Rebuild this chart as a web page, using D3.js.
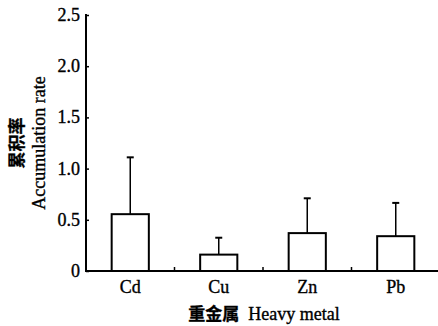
<!DOCTYPE html>
<html>
<head>
<meta charset="utf-8">
<script src="https://cdn.jsdelivr.net/npm/d3@7"></script>
<style>
  body { margin: 0; background: #fff; }
  text { font-family: "Liberation Serif", "Times New Roman", serif; fill: #000; stroke: #000; stroke-width: 0.35; }
  .cjk { font-family: "Noto Sans CJK SC", sans-serif; }
</style>
</head>
<body>
<div id="chart"></div>
<script>
// data
const metals = ["Cd", "Cu", "Zn", "Pb"]
const means = [0.555, 0.16, 0.37, 0.34]
const errTops = [1.11, 0.325, 0.71, 0.665]
const yTicks = [0, 0.5, 1.0, 1.5, 2.0, 2.5]
const yTickLabels = ["0", "0.5", "1.0", "1.5", "2.0", "2.5"]

// layout
const width = 438, height = 326
const x0 = 86, x1 = 440, yTop = 15, yBottom = 271

const svg = d3.select("#chart")
  .append("svg")
    .attr("width", width)
    .attr("height", height)

const x = d3.scaleBand()
  .domain(metals)
  .range([x0, x1])
  .paddingInner(0.58)
  .paddingOuter(0.29)

const y = d3.scaleLinear()
  .domain([0, 2.5])
  .range([yBottom, yTop])

// bars
svg.selectAll(".bar")
  .data(metals)
  .enter().append("rect")
    .attr("x", d => x(d))
    .attr("y", (d, i) => y(means[i]))
    .attr("width", x.bandwidth())
    .attr("height", (d, i) => y(0) - y(means[i]))
    .attr("fill", "white")
    .attr("stroke", "black")
    .attr("stroke-width", 2)

// error bars (upper only)
svg.selectAll(".err")
  .data(metals)
  .enter().append("line")
    .attr("x1", d => x(d) + x.bandwidth() / 2)
    .attr("x2", d => x(d) + x.bandwidth() / 2)
    .attr("y1", (d, i) => y(means[i]))
    .attr("y2", (d, i) => y(errTops[i]))
    .attr("stroke", "black")
    .attr("stroke-width", 1.5)

svg.selectAll(".cap")
  .data(metals)
  .enter().append("line")
    .attr("x1", d => x(d) + x.bandwidth() / 2 - 3.5)
    .attr("x2", d => x(d) + x.bandwidth() / 2 + 3.5)
    .attr("y1", (d, i) => y(errTops[i]))
    .attr("y2", (d, i) => y(errTops[i]))
    .attr("stroke", "black")
    .attr("stroke-width", 2)

// y axis
const yAxis = d3.axisRight(y)
  .tickValues(yTicks)
  .tickSize(3)
  .tickFormat("")
const gy = svg.append("g")
  .attr("transform", "translate(" + x0 + ",0)")
  .call(yAxis)
gy.select(".domain").remove()
gy.selectAll("line").attr("stroke-width", 1.5)

svg.append("line")
  .attr("x1", x0).attr("x2", x0)
  .attr("y1", y(2.5) - 1).attr("y2", y(0) + 1)
  .attr("stroke", "black")
  .attr("stroke-width", 2)

svg.selectAll(".ylab")
  .data(yTicks)
  .enter().append("text")
    .attr("x", 80)
    .attr("y", d => y(d) + 6)
    .attr("text-anchor", "end")
    .attr("font-size", 18)
    .text((d, i) => yTickLabels[i])

// x axis
svg.append("line")
  .attr("x1", x0).attr("x2", width)
  .attr("y1", y(0)).attr("y2", y(0))
  .attr("stroke", "black")
  .attr("stroke-width", 2)

// small ticks between categories
svg.selectAll(".xtick")
  .data(metals.slice(1))
  .enter().append("line")
    .attr("x1", d => x(d) - x.step() * x.paddingInner() / 2)
    .attr("x2", d => x(d) - x.step() * x.paddingInner() / 2)
    .attr("y1", y(0))
    .attr("y2", y(0) - 4)
    .attr("stroke", "black")
    .attr("stroke-width", 1.5)

svg.selectAll(".xlab")
  .data(metals)
  .enter().append("text")
    .attr("x", d => x(d) + x.bandwidth() / 2)
    .attr("y", 293)
    .attr("text-anchor", "middle")
    .attr("font-size", 18)
    .text(d => d)

// axis titles
const xt = svg.append("text")
  .attr("x", 264)
  .attr("y", 320)
  .attr("text-anchor", "middle")
  .attr("font-size", 18)
xt.append("tspan").attr("class", "cjk").attr("font-weight", "bold").attr("font-size", 17).text("重金属")
xt.append("tspan").text("\u00a0\u00a0Heavy metal")

svg.append("text")
  .attr("class", "cjk")
  .attr("transform", "translate(23,143) rotate(-90)")
  .attr("text-anchor", "middle")
  .attr("font-size", 17)
  .attr("font-weight", "bold")
  .text("累积率")

svg.append("text")
  .attr("transform", "translate(45,143) rotate(-90)")
  .attr("text-anchor", "middle")
  .attr("font-size", 18)
  .text("Accumulation rate")
</script>
</body>
</html>
